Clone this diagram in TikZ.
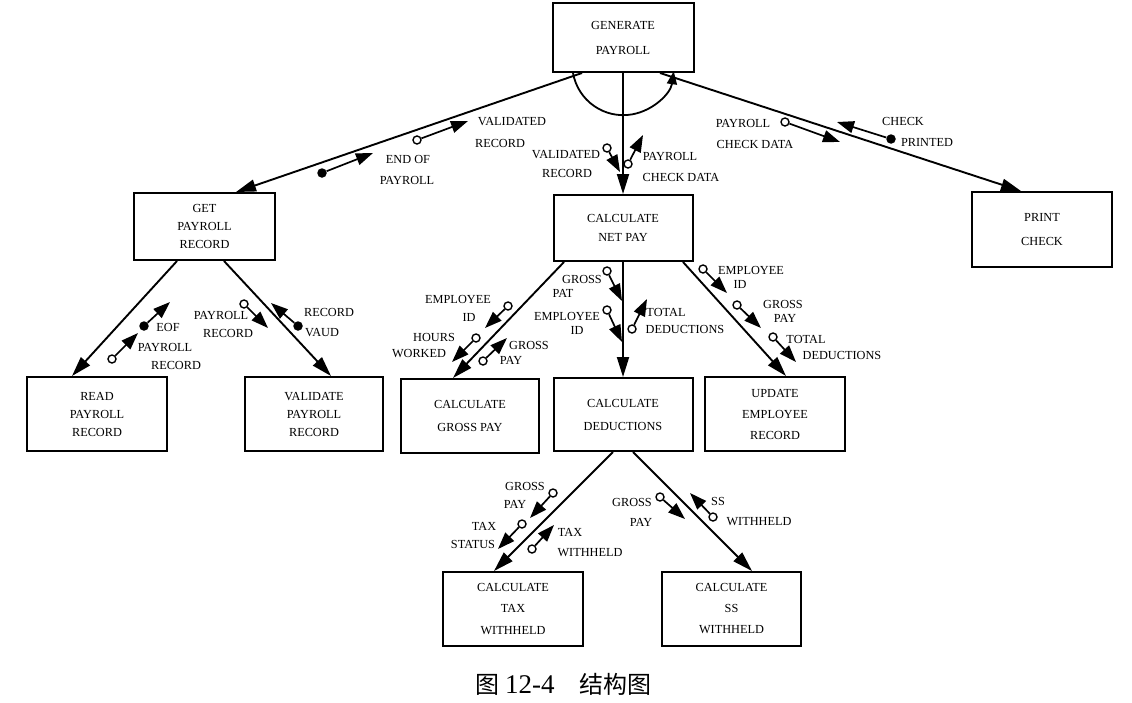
\documentclass[tikz,border=0pt]{standalone}
\usepackage{fontspec}
\setmainfont{Liberation Serif}
\newfontfamily\cjk{Noto Sans CJK SC}
\usetikzlibrary{arrows.meta,calc}
\newcommand\mkcouple[4]{%
  \node[#4] (#1c) at (#2) {};
  \coordinate (#1e) at (#3);
  \draw[couple] (#1c) -- (#1e);}
\begin{document}
\begin{tikzpicture}[x=1pt,y=-1pt,
  box/.style={draw, line width=2pt, align=center, inner sep=0pt,
    font=\fontsize{12.3}{#1}\selectfont},
  conn/.style={line width=1.9pt, -{Triangle[length=20pt,width=12pt]}},
  couple/.style={line width=1.7pt, -{Triangle[length=17pt,width=12pt]}},
  open/.style={circle, draw, line width=1.4pt, fill=white, minimum size=8pt, inner sep=0pt},
  filled/.style={circle, fill, minimum size=9.5pt, inner sep=0pt},
  lab/.style={font=\fontsize{12.3}{14}\selectfont, inner sep=0pt}]
\useasboundingbox (0,0) rectangle (1132,702);
\fill[white] (0,0) rectangle (1132,702);

% boxes
\node[box=25, minimum width=141pt, minimum height=69pt] (gen) at (623,37.5) {GENERATE\\PAYROLL};
\node[box=18, minimum width=141pt, minimum height=67pt] (get) at (204.5,226.5) {GET\\PAYROLL\\RECORD};
\node[box=18, minimum width=140pt, minimum height=74pt] (read) at (97,414) {READ\\PAYROLL\\RECORD};
\node[box=18, minimum width=138pt, minimum height=74pt] (val) at (314,414) {VALIDATE\\PAYROLL\\RECORD};
\node[box=19, minimum width=139pt, minimum height=66pt] (net) at (623,228) {CALCULATE\\NET PAY};
\node[box=24, minimum width=140pt, minimum height=75pt] (print) at (1042,229.5) {PRINT\\CHECK};
\node[box=23, minimum width=138pt, minimum height=74pt] (gross) at (470,416) {CALCULATE\\GROSS PAY};
\node[box=23, minimum width=139pt, minimum height=73pt] (ded) at (623,414.5) {CALCULATE\\DEDUCTIONS};
\node[box=21, minimum width=140pt, minimum height=74pt] (upd) at (775,414) {UPDATE\\EMPLOYEE\\RECORD};
\node[box=21.5, minimum width=140pt, minimum height=74pt] (tax) at (513,609) {CALCULATE\\TAX\\WITHHELD};
\node[box=21, minimum width=139pt, minimum height=74pt] (ss) at (731.5,609) {CALCULATE\\SS\\WITHHELD};

% main connectors
\draw[conn] ([xshift=30.5pt]gen.south west) -- ([xshift=103pt]get.north west);
\draw[conn] (gen.south) -- (net.north);
\draw[conn] ([xshift=37pt]gen.south) -- ([xshift=50pt]print.north west);
\draw[conn] ([xshift=44pt]get.south west) -- ([xshift=46pt]read.north west);
\draw[conn] ([xshift=91pt]get.south west) -- ([xshift=87pt]val.north west);
\draw[conn] ([xshift=11.5pt]net.south west) -- ([xshift=53pt]gross.north west);
\draw[conn] (net.south) -- (ded.north);
\draw[conn] ([xshift=-10.5pt]net.south east) -- ([xshift=82pt]upd.north west);
\draw[conn] ([xshift=-10pt]ded.south) -- ([xshift=52pt]tax.north west);
\draw[conn] ([xshift=10pt]ded.south) -- ([xshift=91pt]ss.north west);

% iteration arc
\draw[line width=1.8pt, -{Triangle[length=13pt,width=10pt]}] ([xshift=-50pt]gen.south) arc[start angle=170, end angle=8, radius=51];

% couples
\mkcouple{c1}{322,173}{373,153}{filled}
\mkcouple{c2}{417,140}{468,121}{open}
\mkcouple{c3}{607,148}{620,172}{open}
\mkcouple{c4}{628,164}{643,135}{open}
\mkcouple{c5}{785,122}{840,142}{open}
\mkcouple{c6}{891,139}{837,122}{filled}
\mkcouple{c7}{112,359}{138,333}{open}
\mkcouple{c8}{144,326}{170,302}{filled}
\mkcouple{c9}{244,304}{268,328}{open}
\mkcouple{c10}{298,326}{271,303}{filled}
\mkcouple{c11}{508,306}{485,328}{open}
\mkcouple{c12}{476,338}{452,362}{open}
\mkcouple{c13}{483,361}{507,338}{open}
\mkcouple{c14}{607,271}{622,301}{open}
\mkcouple{c15}{607,310}{622,342}{open}
\mkcouple{c16}{632,329}{647,299}{open}
\mkcouple{c17}{703,269}{727,293}{open}
\mkcouple{c18}{737,305}{761,328}{open}
\mkcouple{c19}{773,337}{796,362}{open}
\mkcouple{c20}{553,493}{530,518}{open}
\mkcouple{c21}{522,524}{498,549}{open}
\mkcouple{c22}{532,549}{554,525}{open}
\mkcouple{c23}{660,497}{685,519}{open}
\mkcouple{c24}{713,517}{690,493}{open}

% labels
\node[lab] (l1a) at (408,159) {END OF};
\node[lab] (l1b) at (407,180) {PAYROLL};
\node[lab] (l2a) at (512,122) {VALIDATED};
\node[lab] (l2b) at (500,143) {RECORD};
\node[lab] (l3a) at (566,155) {VALIDATED};
\node[lab] (l3b) at (567,173) {RECORD};
\node[lab] (l4a) at (670,156) {PAYROLL};
\node[lab] (l4b) at (681,177) {CHECK DATA};
\node[lab] (l5a) at (743,123) {PAYROLL};
\node[lab] (l5b) at (755,144) {CHECK DATA};
\node[lab] (l6a) at (903,121) {CHECK};
\node[lab] (l6b) at (927,142) {PRINTED};
\node[lab] (l7a) at (165,347) {PAYROLL};
\node[lab] (l7b) at (176,365) {RECORD};
\node[lab] (l8a) at (168,327) {EOF};
\node[lab] (l9a) at (221,315) {PAYROLL};
\node[lab] (l9b) at (228,333) {RECORD};
\node[lab] (l10a) at (329,312) {RECORD};
\node[lab] (l10b) at (322,333) {VAUD};
\node[lab] (l11a) at (458,299) {EMPLOYEE};
\node[lab] (l11b) at (469,317) {ID};
\node[lab] (l12a) at (434,337) {HOURS};
\node[lab] (l12b) at (419,354) {WORKED};
\node[lab] (l13a) at (529,345) {GROSS};
\node[lab] (l13b) at (511,360) {PAY};
\node[lab] (l14a) at (582,279) {GROSS};
\node[lab] (l14b) at (563,293) {PAT};
\node[lab] (l15a) at (567,316) {EMPLOYEE};
\node[lab] (l15b) at (577,330) {ID};
\node[lab] (l16a) at (666,312) {TOTAL};
\node[lab] (l16b) at (685,329) {DEDUCTIONS};
\node[lab] (l17a) at (751,270) {EMPLOYEE};
\node[lab] (l17b) at (740,284) {ID};
\node[lab] (l18a) at (783,304) {GROSS};
\node[lab] (l18b) at (785,318) {PAY};
\node[lab] (l19a) at (806,339) {TOTAL};
\node[lab] (l19b) at (842,355) {DEDUCTIONS};
\node[lab] (l20a) at (525,486) {GROSS};
\node[lab] (l20b) at (515,504) {PAY};
\node[lab] (l21a) at (484,526) {TAX};
\node[lab] (l21b) at (473,544) {STATUS};
\node[lab] (l22a) at (570,532) {TAX};
\node[lab] (l22b) at (590,553) {WITHHELD};
\node[lab] (l23a) at (632,502) {GROSS};
\node[lab] (l23b) at (641,522) {PAY};
\node[lab] (l24a) at (718,501) {SS};
\node[lab] (l24b) at (759,522) {WITHHELD};

% caption
\node[inner sep=0pt, anchor=west, font=\fontsize{24}{26}\selectfont] (cap) at (475,684)
  {\cjk 图\hspace{6pt}{\rmfamily\fontsize{27}{28}\selectfont 12-4}\hspace{25pt}结构图};
\end{tikzpicture}
\end{document}
